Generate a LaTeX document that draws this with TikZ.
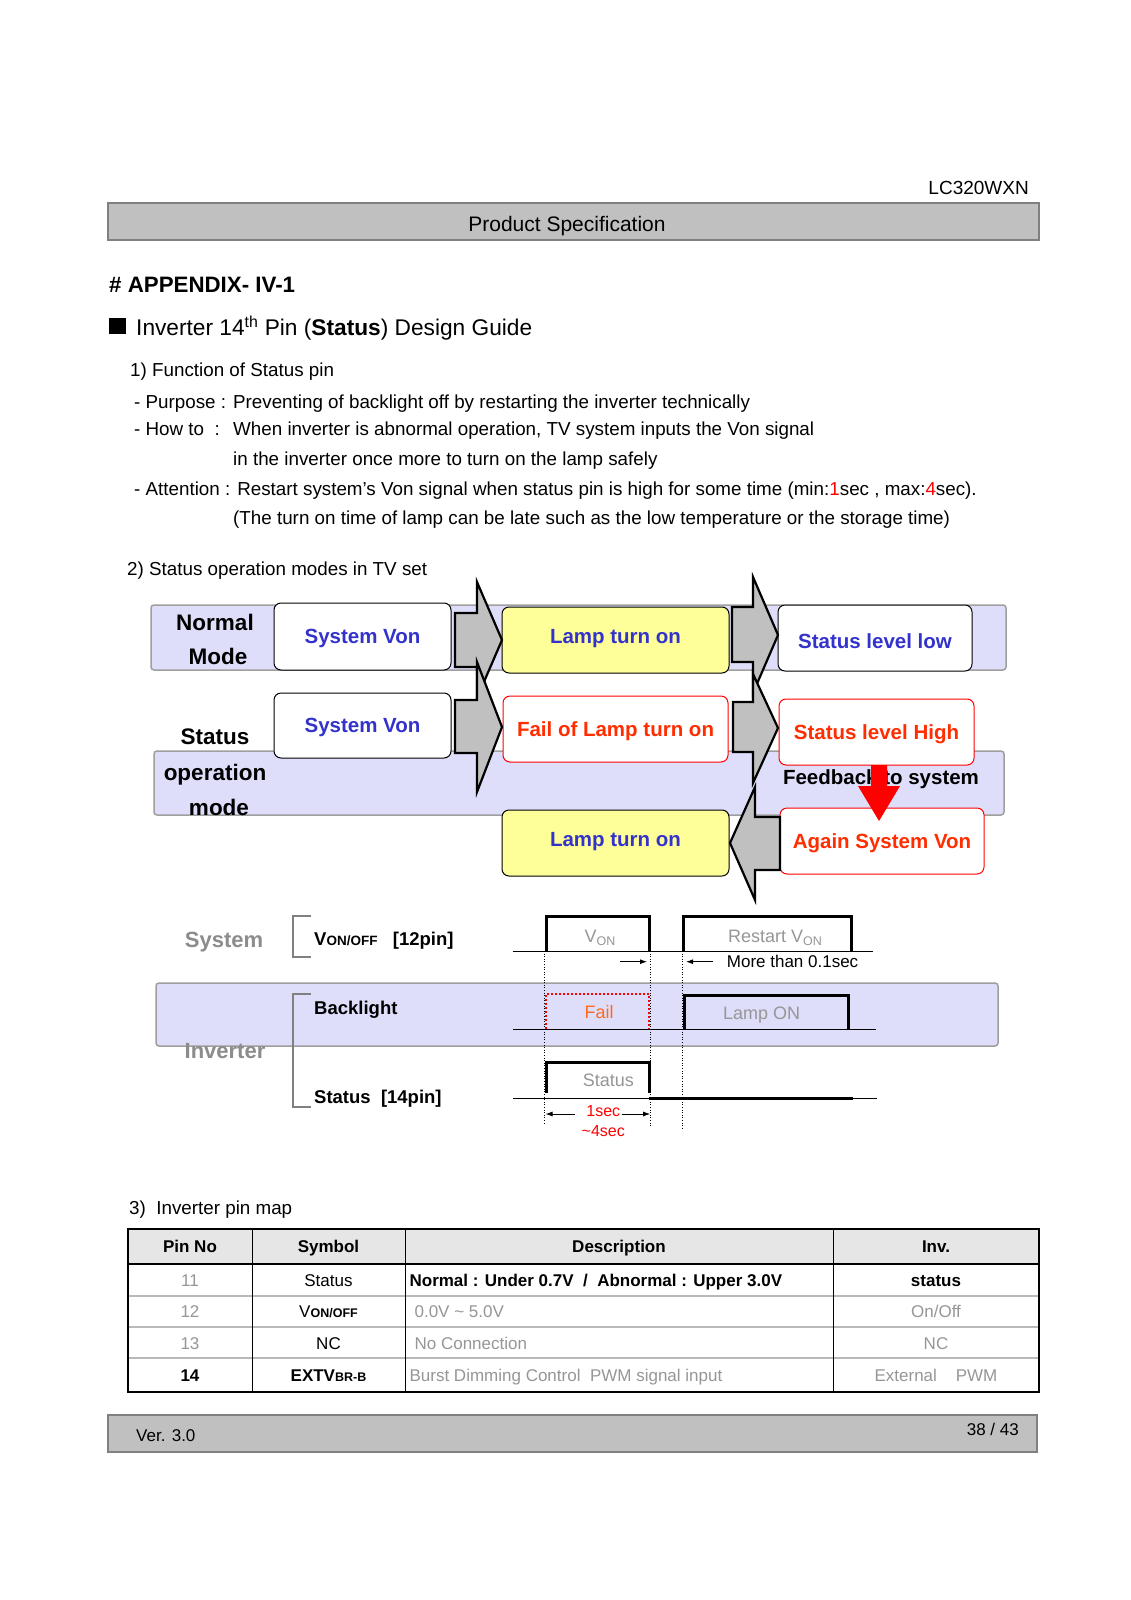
\documentclass[tikz,border=0pt]{standalone}
\usepackage{fontspec}
\setmainfont{Liberation Sans}
\usetikzlibrary{arrows.meta}
\newcommand{\fsz}[1]{\fontsize{#1}{#1}\selectfont}
\definecolor{vblue}{RGB}{51,51,204}
\definecolor{vred}{RGB}{255,45,0}
\definecolor{ylw}{RGB}{255,255,153}
\definecolor{lav}{RGB}{222,222,250}
\definecolor{arrgray}{RGB}{192,192,192}
\definecolor{tgray}{RGB}{140,140,140}
\definecolor{lgray}{RGB}{150,150,150}
\definecolor{forange}{RGB}{255,105,30}
\definecolor{hdrgray}{RGB}{230,230,230}
\definecolor{bargray}{RGB}{192,192,192}
\begin{document}
\begin{tikzpicture}[x=1pt,y=-1pt,
  lbl/.style={inner sep=0pt, anchor=base west},
  body/.style={lbl, font=\fsz{18.8}},
  barst/.style={draw=gray, fill=bargray, line width=1.5pt},
  band/.style={draw=gray!75, fill=lav, line width=1.5pt, rounded corners=3pt},
  boxbase/.style={line width=1pt, rounded corners=7pt, inner sep=0pt,
     font=\fsz{20.5}\bfseries, text height=14.7pt, text depth=0pt},
  wbox/.style={boxbase, draw=black, fill=white, text=vblue},
  ybox/.style={boxbase, draw=black, fill=ylw, text=vblue, text depth=7pt},
  rbox/.style={boxbase, draw=red, fill=white, text=vred},
  modetxt/.style={inner sep=0pt, anchor=base, font=\fsz{22.5}\bfseries},
  bigarrow/.style={draw=black, fill=arrgray, line width=2.2pt, line join=miter},
  pulse/.style={line width=3pt, line join=miter},
  base/.style={line width=0.8pt},
  vdot/.style={line width=0.8pt, dash pattern=on 1pt off 1.6pt},
  brk/.style={draw=gray, line width=2pt},
  tlbl/.style={lbl, font=\fsz{18.5}\bfseries},
  small/.style={-{Latex[length=7pt,width=5pt]}, line width=0.9pt},
  tcell/.style={inner sep=0pt, anchor=base, font=\fsz{17}},
  dcell/.style={inner sep=0pt, anchor=base west, font=\fsz{17}},
]
\useasboundingbox (0,0) rectangle (1131,1600);
\fill[white] (0,0) rectangle (1131,1600);

% ---------- header ----------
\node[lbl, anchor=base east, font=\fsz{19}] (model) at (1029,194) {LC320WXN};
\draw[barst] (108,203) rectangle (1039,240);
\node[lbl, anchor=base, font=\fsz{21}] (ps) at (567,231.5) {Product Specification};

\node[lbl, font=\fsz{22.3}\bfseries] (app) at (109,292) {\# APPENDIX- IV-1};
\fill (109,318) rectangle (126,334);
\node[lbl, font=\fsz{22.7}] (guide) at (136,335) {Inverter 14\textsuperscript{th} Pin (\textbf{Status}) Design Guide};

\node[body] (f1) at (130,376) {1) Function of Status pin};
\node[body] (f2) at (134,408.5) {- Purpose : Preventing of backlight off by restarting the inverter technically};
\node[body] (f3a) at (134,435) {- How to\ \ :};
\node[body] (f3b) at (233,435) {When inverter is abnormal operation, TV system inputs the Von signal};
\node[body] (f4) at (233,465) {in the inverter once more to turn on the lamp safely};
\node[body] (f5) at (134,495) {- Attention : Restart system’s Von signal when status pin is high for some time (min:\textcolor{red}{1}sec , max:\textcolor{red}{4}sec).};
\node[body] (f6) at (233,524) {(The turn on time of lamp can be late such as the low temperature or the storage time)};
\node[body] (s2) at (127,575.5) {2) Status operation modes in TV set};

% ---------- mode diagram ----------
\draw[band] (151,605) rectangle (1006,670);
\draw[band] (154,751) rectangle (1004,815);

\node[modetxt] (nm1) at (215,630) {Normal};
\node[modetxt] (nm2) at (218,664) {Mode};
\node[modetxt] (so1) at (215,744) {Status};
\node[modetxt] (so2) at (215,780) {operation};
\node[modetxt] (so3) at (219,815) {mode};

\node[wbox, minimum width=177pt, minimum height=67pt] (sv1) at (362.5,636.5) {System Von};
\node[ybox, minimum width=227pt, minimum height=66pt] (lt1) at (615.5,640) {Lamp turn on};
\node[wbox, minimum width=194pt, minimum height=66pt, text height=20.7pt] (sl) at (875,638) {Status level low};
\node[wbox, minimum width=177pt, minimum height=65pt] (sv2) at (362.5,725.5) {System Von};
\node[rbox, minimum width=225pt, minimum height=66pt] (fl) at (615.5,729) {Fail of Lamp turn on};
\node[rbox, minimum width=195pt, minimum height=66pt] (sh) at (876.5,732) {Status level High};
\node[ybox, minimum width=227pt, minimum height=66pt] (lt3) at (615.5,843) {Lamp turn on};
\node[rbox, minimum width=204pt, minimum height=66pt] (asv) at (882,841) {Again System Von};

% block arrows
\draw[bigarrow] (455,613) -- (477,613) -- (477,582) -- (502,640) -- (477,698) -- (477,667) -- (455,667) -- cycle;
\draw[bigarrow] (455,700) -- (477,700) -- (477,662) -- (502,727) -- (477,792) -- (477,753) -- (455,753) -- cycle;
\draw[bigarrow] (732,607) -- (753,607) -- (753,577) -- (778,635) -- (753,693) -- (753,662) -- (732,662) -- cycle;
\draw[bigarrow] (733,702) -- (753,702) -- (753,674) -- (778,728) -- (753,783) -- (753,752) -- (733,752) -- cycle;
\draw[bigarrow] (780,817) -- (755,817) -- (755,787) -- (730,843) -- (755,900) -- (755,870) -- (780,870) -- cycle;

\node[inner sep=0pt, anchor=base, font=\fsz{20.5}\bfseries] (fb) at (881,784.5) {Feedback to system};
\fill[red] (871,765) -- (887,765) -- (887,786) -- (900,786) -- (879,821) -- (858,786) -- (871,786) -- cycle;

% ---------- timing diagram ----------
\draw[band] (156,983) rectangle (998,1046);
\node[inner sep=0pt, anchor=base, font=\fsz{22}\bfseries, text=tgray] (sysl) at (224,947.2) {System};
\node[inner sep=0pt, anchor=base, font=\fsz{22}\bfseries, text=tgray] (invl) at (225,1058.6) {Inverter};
\draw[brk] (310.7,916) -- (292.7,916) -- (292.7,957) -- (310.7,957);
\draw[brk] (310.7,994.3) -- (292.7,994.3) -- (292.7,1107.3) -- (310.7,1107.3);
\node[tlbl] (von) at (314,945.6) {V{\fsz{13.5}ON/OFF}\ \ \ [12pin]};
\node[tlbl] (bl) at (314,1014) {Backlight};
\node[tlbl] (st) at (314,1103.3) {Status\ \ [14pin]};

% baselines
\draw[base] (513,951) -- (873,951);
\draw[base] (513,1029) -- (876,1029);
\draw[base] (513,1098.3) -- (877,1098.3);
% dotted verticals
\draw[vdot] (544.3,951) -- (544.3,1123);
\draw[vdot] (650.7,951) -- (650.7,1127);
\draw[vdot] (682.7,951) -- (682.7,1130);
% pulses
\draw[pulse] (546,951) -- (546,916) -- (649.3,916) -- (649.3,951);
\draw[pulse] (683.3,951) -- (683.3,916) -- (851.7,916) -- (851.7,951);
\draw[pulse] (684.3,1029) -- (684.3,995) -- (848.3,995) -- (848.3,1029);
\draw[pulse] (546,1093) -- (546,1062.7) -- (649.3,1062.7) -- (649.3,1093);
\draw[pulse] (649.3,1098.3) -- (852.7,1098.3);
\draw[red, line width=2pt, dash pattern=on 2pt off 2pt] (546,1029) -- (546,994.3) -- (649.3,994.3) -- (649.3,1029);

\node[inner sep=0pt, anchor=base, font=\fsz{18}, text=lgray] (vonl) at (600,942.5) {V{\fsz{12.5}\raisebox{-3pt}{ON}}};
\node[inner sep=0pt, anchor=base, font=\fsz{18}, text=lgray] (rvon) at (775,942.5) {Restart V{\fsz{12.5}\raisebox{-3pt}{ON}}};
\coordinate (a1s) at (620,961.7);
\coordinate (a1e) at (647,961.7);
\draw[small] (a1s) -- (a1e);
\coordinate (a2s) at (713,961.7);
\coordinate (a2e) at (686,961.7);
\draw[small] (a2s) -- (a2e);
\node[lbl, font=\fsz{17}] (mt) at (726.7,967.8) {More than 0.1sec};
\node[inner sep=0pt, anchor=base, font=\fsz{18}, text=forange] (faill) at (599,1018) {Fail};
\node[inner sep=0pt, anchor=base, font=\fsz{18}, text=lgray] (lon) at (761.7,1019) {Lamp ON};
\node[inner sep=0pt, anchor=base, font=\fsz{18}, text=lgray] (stl) at (608.3,1086.5) {Status};
\node[inner sep=0pt, anchor=base, font=\fsz{16}, text=red] (s1) at (603.3,1116.4) {1sec};
\node[inner sep=0pt, anchor=base, font=\fsz{16}, text=red] (s4) at (603.3,1136.4) {\textasciitilde4sec};
\coordinate (b1s) at (575,1114);
\coordinate (b1e) at (545.5,1114);
\draw[small] (b1s) -- (b1e);
\coordinate (b2s) at (621.7,1114);
\coordinate (b2e) at (650.2,1114);
\draw[small] (b2s) -- (b2e);

% ---------- pin map ----------
\node[body] (s3) at (129,1214.5) {3)\ \ Inverter pin map};
\fill[hdrgray] (128,1229) rectangle (1039,1264);
\foreach \yy in {1296,1327,1358} \draw[gray!55, line width=2.2pt] (128,\yy) -- (1039,\yy);
\draw[line width=1.5pt] (128,1264) -- (1039,1264);
\foreach \xx in {252,405,833} \draw[line width=1pt] (\xx,1229) -- (\xx,1392);
\draw[line width=2.5pt] (128,1229) rectangle (1039,1392);

\node[tcell, font=\fsz{17}\bfseries] (h1) at (190,1252) {Pin No};
\node[tcell, font=\fsz{17}\bfseries] (h2) at (328.5,1252) {Symbol};
\node[tcell, font=\fsz{17}\bfseries] (h3) at (619,1252) {Description};
\node[tcell, font=\fsz{17}\bfseries] (h4) at (936,1252) {Inv.};

\node[tcell, text=lgray] (r1a) at (190,1286) {11};
\node[tcell] (r1b) at (328.5,1286) {Status};
\node[dcell, font=\fsz{17}\bfseries] (r1c) at (409.4,1286) {Normal : Under 0.7V\ \ /\ \ Abnormal : Upper 3.0V};
\node[tcell, font=\fsz{17}\bfseries] (r1d) at (936,1286) {status};

\node[tcell, text=lgray] (r2a) at (190,1317) {12};
\node[tcell] (r2b) at (328.5,1317) {V{\fsz{12.5}\bfseries ON/OFF}};
\node[dcell, text=lgray] (r2c) at (414.4,1317) {0.0V \textasciitilde{} 5.0V};
\node[tcell, text=lgray] (r2d) at (936,1317) {On/Off};

\node[tcell, text=lgray] (r3a) at (190,1349) {13};
\node[tcell] (r3b) at (328.5,1349) {NC};
\node[dcell, text=lgray] (r3c) at (414.4,1349) {No Connection};
\node[tcell, text=lgray] (r3d) at (936,1349) {NC};

\node[tcell, font=\fsz{17}\bfseries] (r4a) at (190,1381) {14};
\node[tcell, font=\fsz{17}\bfseries] (r4b) at (328.5,1381) {EXTV{\fsz{12.5}BR-B}};
\node[dcell, text=lgray] (r4c) at (409.4,1381) {Burst Dimming Control\ \ PWM signal input};
\node[tcell, text=lgray] (r4d) at (936,1381) {External\ \ \ \ PWM};

% ---------- footer ----------
\draw[barst] (108,1415) rectangle (1037,1452);
\node[lbl, font=\fsz{17}] (ver) at (136,1441) {Ver. 3.0};
\node[lbl, anchor=base east, font=\fsz{17}] (pg) at (1019,1435) {38 / 43};
\end{tikzpicture}
\end{document}
